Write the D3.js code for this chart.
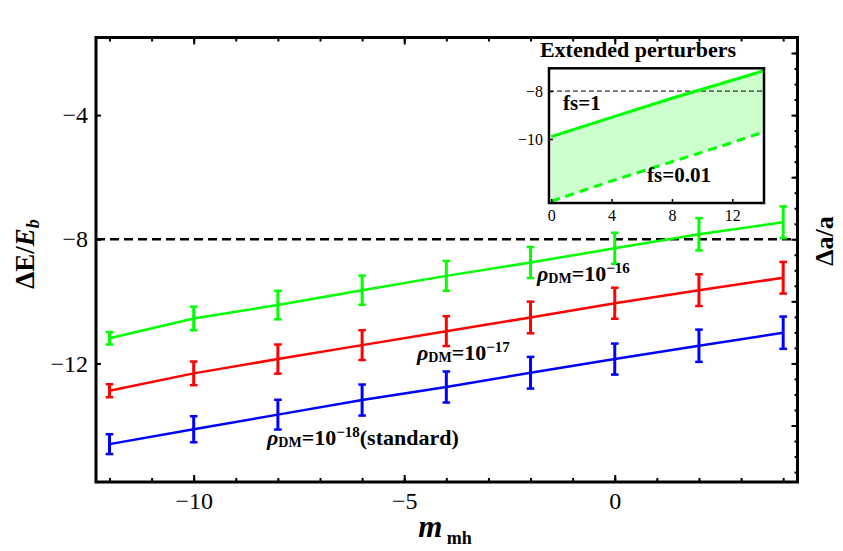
<!DOCTYPE html>
<html><head><meta charset="utf-8">
<script src="https://cdn.jsdelivr.net/npm/d3@7"></script>
<style>body{margin:0;background:#fff}svg{display:block}</style>
</head><body><svg id="c" width="843" height="551"></svg>
<script>
// ---------- data ----------
const mh = [-12, -10, -8, -6, -4, -2, 0, 2, 4];
const green = [-11.19, -10.55, -10.12, -9.64, -9.18, -8.75, -8.29, -7.84, -7.45];
const greenErr = [0.20, 0.38, 0.46, 0.47, 0.48, 0.50, 0.50, 0.52, 0.51];
const red = [-12.88, -12.32, -11.86, -11.41, -10.96, -10.52, -10.06, -9.64, -9.24];
const redErr = [0.21, 0.38, 0.47, 0.48, 0.48, 0.51, 0.50, 0.51, 0.51];
const blue = [-14.60, -14.12, -13.65, -13.18, -12.76, -12.30, -11.86, -11.43, -11.01];
const blueErr = [0.32, 0.42, 0.48, 0.50, 0.50, 0.51, 0.50, 0.52, 0.52];
const threshold = -8;
const yTicks = [-4, -8, -12];
const xMajorTicks = [-10, -5, 0];
// inset
const fsX = [0, 4, 8, 12, 14.1];
const fs1 = [-9.9, -9.1, -8.3, -7.55, -7.15];
const fs001 = [-12.6, -11.75, -10.95, -10.15, -9.7];
const insetXTicks = [0, 4, 8, 12];
const insetYTicks = [-8, -10];

const serif = "'Liberation Serif','Times New Roman',serif";
const svg = d3.select("#c");

// ---------- main scales ----------
const x = d3.scaleLinear().domain([-12.32, 4.34]).range([96, 797.5]);
const y = d3.scaleLinear().domain([-15.82, -1.5]).range([482, 37.5]);

function styleAxis(g){
  g.attr("font-family", serif);
  g.select(".domain").remove();
  g.selectAll(".tick line").attr("stroke","#000").attr("stroke-width",2);
  g.selectAll("text").attr("font-family",serif).attr("font-size",24).attr("fill","#000");
}

// bottom
svg.append("g").attr("transform","translate(0,482)")
  .call(d3.axisBottom(x).tickValues(d3.range(-12,5)).tickSize(-4).tickFormat(""))
  .call(styleAxis);
svg.append("g").attr("transform","translate(0,482)")
  .call(d3.axisBottom(x).tickValues(xMajorTicks).tickSize(-7).tickPadding(10).tickFormat(d3.format("d")))
  .call(styleAxis);
// top
svg.append("g").attr("transform","translate(0,37.5)")
  .call(d3.axisTop(x).tickValues(d3.range(-12,5)).tickSize(-4).tickFormat(""))
  .call(styleAxis);
svg.append("g").attr("transform","translate(0,37.5)")
  .call(d3.axisTop(x).tickValues(xMajorTicks).tickSize(-7).tickFormat(""))
  .call(styleAxis);
// left
svg.append("g").attr("transform","translate(96,0)")
  .call(d3.axisLeft(y).tickValues(yTicks).tickSize(-5).tickPadding(8).tickFormat(d3.format("d")))
  .call(styleAxis);
// right
const rightMinor = d3.range(-2, -15.6, -0.5);
svg.append("g").attr("transform","translate(797.5,0)")
  .call(d3.axisRight(y).tickValues(rightMinor).tickSize(-3).tickFormat(""))
  .call(styleAxis);
svg.append("g").attr("transform","translate(797.5,0)")
  .call(d3.axisRight(y).tickValues(d3.range(-2,-15,-2)).tickSize(-6).tickFormat(""))
  .call(styleAxis);

// threshold line
svg.append("line").attr("x1",x.range()[0]).attr("x2",x.range()[1])
  .attr("y1",y(threshold)).attr("y2",y(threshold))
  .attr("stroke","#000").attr("stroke-width",2.5).attr("stroke-dasharray","9,5");

// series
const series = [
  {v: blue, e: blueErr, c: "#0000ff"},
  {v: red, e: redErr, c: "#ff0000"},
  {v: green, e: greenErr, c: "#00ff00"}
];
const line = d3.line().x(d=>x(d.m)).y(d=>y(d.v));
series.forEach(s=>{
  const pts = mh.map((m,i)=>({m, v:s.v[i], e:s.e[i]}));
  const g = svg.append("g");
  g.append("path").datum(pts).attr("d",line).attr("fill","none")
    .attr("stroke",s.c).attr("stroke-width",2.5);
  const eb = g.selectAll(".eb").data(pts).enter().append("g");
  eb.append("line").attr("x1",d=>x(d.m)).attr("x2",d=>x(d.m))
    .attr("y1",d=>y(d.v-d.e)).attr("y2",d=>y(d.v+d.e))
    .attr("stroke",s.c).attr("stroke-width",3);
  [-1,1].forEach(sg=>{
    eb.append("line").attr("x1",d=>x(d.m)-3.8).attr("x2",d=>x(d.m)+3.8)
      .attr("y1",d=>y(d.v+sg*d.e)).attr("y2",d=>y(d.v+sg*d.e))
      .attr("stroke",s.c).attr("stroke-width",2.5);
  });
});

// frame
svg.append("rect").attr("x",96).attr("y",37.5).attr("width",797.5-96).attr("height",482-37.5)
  .attr("fill","none").attr("stroke","#000").attr("stroke-width",3);

// series labels
function rhoLabel(px, py, exp, suffix){
  const t = svg.append("text").attr("x",px).attr("y",py)
    .attr("font-family",serif).attr("font-weight","bold").attr("font-size",22).attr("fill","#000");
  t.append("tspan").attr("font-style","italic").text("ρ");
  t.append("tspan").attr("font-size",14).attr("dy",2).text("DM");
  t.append("tspan").attr("dy",-2).text("=10");
  t.append("tspan").attr("font-size",15).attr("dy",-8).text("−"+exp);
  if (suffix) t.append("tspan").attr("dy",8).text(suffix);
}
rhoLabel(537, 281, "16");
rhoLabel(417, 360, "17");
rhoLabel(267, 445, "18", "(standard)");

// axis titles
const yl = svg.append("text").attr("transform","translate(34,254) rotate(-90)")
  .attr("text-anchor","middle").attr("font-family",serif).attr("font-weight","bold")
  .attr("font-size",27).attr("fill","#000");
yl.append("tspan").text("ΔE/");
yl.append("tspan").attr("font-style","italic").text("E");
yl.append("tspan").attr("font-style","italic").attr("font-size",18).attr("dy",5).text("b");

svg.append("text").attr("transform","translate(833,241) rotate(-90)")
  .attr("text-anchor","middle").attr("font-family",serif).attr("font-weight","bold")
  .attr("font-size",26).attr("fill","#000").text("Δa/a");

const xl = svg.append("text").attr("x",445).attr("y",537).attr("text-anchor","middle")
  .attr("font-family",serif).attr("font-weight","bold").attr("font-size",31).attr("fill","#000");
xl.append("tspan").attr("font-style","italic").text("m");
xl.append("tspan").attr("font-size",18).attr("dy",7).text(" mh");

// ---------- inset ----------
const ix = d3.scaleLinear().domain([-0.15, 14.1]).range([549, 764]);
const iy = d3.scaleLinear().domain([-12.67, -7.05]).range([203, 68.3]);
const inset = svg.append("g");
inset.append("rect").attr("x",549).attr("y",68.3).attr("width",764-549).attr("height",203-68.3)
  .attr("fill","#fff");
const ipts = fsX.map((xx,i)=>({x:xx, a:fs1[i], b:fs001[i]}));
inset.append("path").datum(ipts)
  .attr("d", d3.area().x(d=>ix(d.x)).y0(d=>iy(d.b)).y1(d=>iy(d.a)))
  .attr("fill","#ccffcc");
inset.append("line").attr("x1",549).attr("x2",764).attr("y1",iy(-8)).attr("y2",iy(-8))
  .attr("stroke","#000").attr("stroke-width",1).attr("stroke-dasharray","5,3");
inset.append("path").datum(ipts).attr("d",d3.line().x(d=>ix(d.x)).y(d=>iy(d.a)))
  .attr("fill","none").attr("stroke","#00ff00").attr("stroke-width",3);
inset.append("path").datum(ipts).attr("d",d3.line().x(d=>ix(d.x)).y(d=>iy(d.b)))
  .attr("fill","none").attr("stroke","#00ff00").attr("stroke-width",3).attr("stroke-dasharray","9,6");
function styleInset(g){
  g.attr("font-family", serif);
  g.select(".domain").remove();
  g.selectAll(".tick line").attr("stroke","#000").attr("stroke-width",1.5);
  g.selectAll("text").attr("font-family",serif).attr("font-size",16).attr("fill","#000");
}
inset.append("g").attr("transform","translate(0,203)")
  .call(d3.axisBottom(ix).tickValues(insetXTicks).tickSize(-4).tickPadding(7).tickFormat(d3.format("d")))
  .call(styleInset);
inset.append("g").attr("transform","translate(549,0)")
  .call(d3.axisLeft(iy).tickValues(insetYTicks).tickSize(-4).tickPadding(6).tickFormat(d3.format("d")))
  .call(styleInset);
inset.append("rect").attr("x",549).attr("y",68.3).attr("width",764-549).attr("height",203-68.3)
  .attr("fill","none").attr("stroke","#000").attr("stroke-width",2.5);
inset.append("text").attr("x",638).attr("y",57).attr("text-anchor","middle")
  .attr("font-family",serif).attr("font-weight","bold").attr("font-size",22).attr("fill","#000")
  .text("Extended perturbers");
inset.append("text").attr("x",563).attr("y",110)
  .attr("font-family",serif).attr("font-weight","bold").attr("font-size",21).attr("fill","#000")
  .text("fs=1");
inset.append("text").attr("x",647).attr("y",182)
  .attr("font-family",serif).attr("font-weight","bold").attr("font-size",21).attr("fill","#000")
  .text("fs=0.01");
</script></body></html>
